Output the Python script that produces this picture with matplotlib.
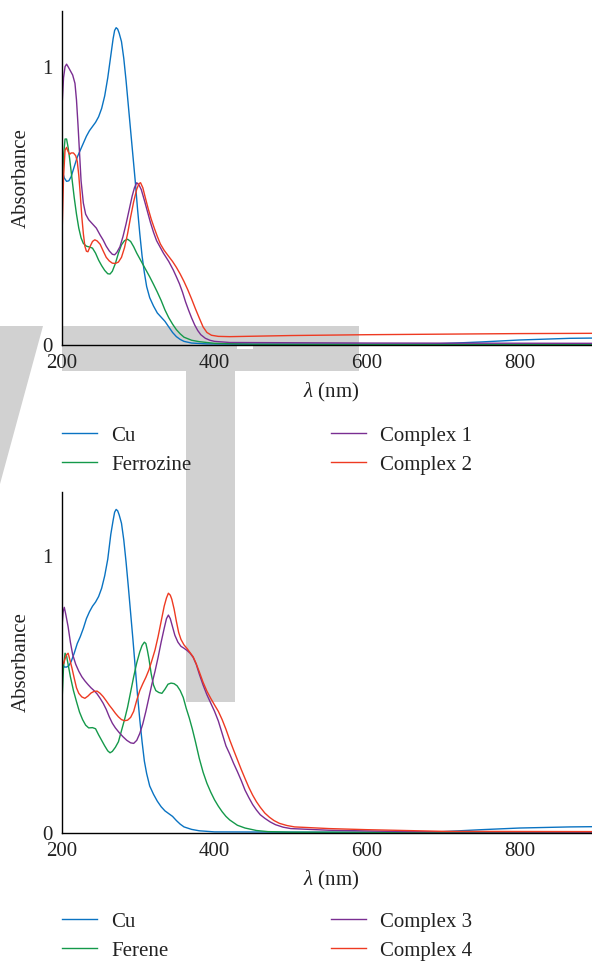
import matplotlib
matplotlib.use("Agg")
import matplotlib.pyplot as plt
from matplotlib.patches import Polygon, Rectangle

plt.rcParams["font.family"] = ["Liberation Serif", "DejaVu Serif"]
plt.rcParams["mathtext.fontset"] = "custom"
plt.rcParams["mathtext.it"] = "Liberation Serif:italic"
plt.rcParams["mathtext.rm"] = "Liberation Serif"

# ---------------- Panel A: Cu, Ferrozine, Complex 1, Complex 2 ----------------
cu_a_wl = [200, 203, 206, 209, 212, 216, 220, 224, 228, 232, 236, 240, 244, 248, 252,
           256, 260, 264, 267, 269, 271, 273, 275, 278, 281, 284, 287, 290, 293, 296,
           299, 302, 305, 308, 311, 315, 320, 325, 330, 335, 340, 345, 350, 355, 360,
           370, 390, 450, 650, 690, 750, 800, 866, 900]
cu_a_abs = [0.63, 0.60, 0.588, 0.59, 0.605, 0.64, 0.675, 0.70, 0.725, 0.75, 0.77, 0.785,
            0.80, 0.82, 0.85, 0.895, 0.96, 1.04, 1.10, 1.13, 1.14, 1.135, 1.12, 1.09,
            1.03, 0.95, 0.86, 0.77, 0.68, 0.59, 0.49, 0.40, 0.32, 0.26, 0.21, 0.17,
            0.14, 0.115, 0.10, 0.085, 0.065, 0.045, 0.03, 0.02, 0.013, 0.007, 0.004,
            0.003, 0.003, 0.004, 0.011, 0.018, 0.024, 0.025]

fz_wl = [200, 202, 204, 206, 208, 210, 213, 216, 219, 222, 225, 228, 232, 236, 240,
         244, 248, 252, 256, 260, 263, 266, 270, 274, 278, 282, 286, 290, 294, 298,
         302, 306, 310, 315, 320, 325, 330, 335, 340, 345, 350, 355, 360, 370, 380,
         400, 450, 600, 900]
fz_abs = [0.52, 0.68, 0.74, 0.74, 0.71, 0.67, 0.60, 0.53, 0.47, 0.42, 0.385, 0.365,
          0.355, 0.352, 0.348, 0.33, 0.305, 0.285, 0.268, 0.256, 0.255, 0.265, 0.293,
          0.33, 0.36, 0.375, 0.38, 0.372, 0.353, 0.33, 0.31, 0.29, 0.27, 0.245, 0.218,
          0.19, 0.16, 0.126, 0.098, 0.075, 0.055, 0.04, 0.028, 0.017, 0.012, 0.006,
          0.003, 0.002, 0.002]

c1_wl = [200, 202, 204, 206, 208, 211, 214, 217, 219, 221, 223, 225, 228, 231, 235,
         240, 245, 250, 254, 258, 262, 266, 269, 272, 276, 280, 284, 288, 292, 295,
         298, 301, 304, 308, 312, 316, 320, 324, 328, 333, 340, 346, 350, 354, 358,
         362, 366, 370, 374, 378, 382, 388, 394, 400, 420, 600, 900]
c1_abs = [0.856, 0.96, 1.0, 1.009, 1.0, 0.985, 0.97, 0.94, 0.88, 0.79, 0.69, 0.59,
          0.51, 0.47, 0.45, 0.435, 0.42, 0.395, 0.377, 0.355, 0.338, 0.326, 0.324,
          0.333, 0.353, 0.39, 0.435, 0.485, 0.535, 0.565, 0.583, 0.575, 0.558, 0.52,
          0.48, 0.44, 0.405, 0.375, 0.355, 0.33, 0.30, 0.269, 0.245, 0.22, 0.19, 0.155,
          0.125, 0.097, 0.072, 0.052, 0.037, 0.024, 0.017, 0.013, 0.009, 0.007, 0.006]

c2_wl = [200, 202, 204, 206, 208, 210, 212, 215, 218, 220, 222, 224, 226, 228, 230,
         232, 234, 237, 240, 243, 246, 250, 254, 258, 262, 266, 270, 274, 278, 282,
         286, 290, 294, 298, 301, 303, 306, 309, 313, 317, 321, 325, 329, 334, 340,
         345, 350, 355, 360, 365, 370, 375, 380, 385, 390, 396, 405, 420, 500, 600,
         700, 800, 900]
c2_abs = [0.389, 0.60, 0.70, 0.71, 0.695, 0.685, 0.69, 0.69, 0.68, 0.66, 0.61, 0.54,
          0.46, 0.40, 0.355, 0.337, 0.335, 0.355, 0.372, 0.378, 0.374, 0.362, 0.338,
          0.315, 0.302, 0.294, 0.293, 0.298, 0.315, 0.35, 0.40, 0.46, 0.515, 0.56,
          0.58, 0.583, 0.565, 0.532, 0.49, 0.452, 0.42, 0.39, 0.363, 0.34, 0.318, 0.30,
          0.279, 0.255, 0.228, 0.198, 0.165, 0.13, 0.097, 0.065, 0.045, 0.035, 0.031,
          0.03, 0.034, 0.037, 0.039, 0.041, 0.042]

# ---------------- Panel B: Cu, Ferene, Complex 3, Complex 4 ----------------
cu_b_wl = [200, 203, 206, 209, 212, 216, 220, 224, 228, 232, 236, 240, 244, 248, 252,
           256, 260, 264, 267, 269, 271, 273, 275, 278, 281, 284, 287, 290, 293, 296,
           299, 302, 305, 308, 311, 315, 320, 325, 330, 335, 340, 345, 350, 355, 360,
           370, 380, 400, 673, 700, 750, 800, 866, 900]
cu_b_abs = [0.615, 0.60, 0.60, 0.605, 0.62, 0.65, 0.685, 0.71, 0.74, 0.775, 0.80, 0.82,
            0.835, 0.855, 0.885, 0.93, 0.99, 1.08, 1.13, 1.16, 1.17, 1.165, 1.15, 1.12,
            1.06, 0.98, 0.89, 0.795, 0.70, 0.60, 0.50, 0.41, 0.33, 0.26, 0.215, 0.17,
            0.14, 0.115, 0.095, 0.08, 0.07, 0.06, 0.045, 0.032, 0.022, 0.013, 0.008,
            0.004, 0.002, 0.005, 0.012, 0.018, 0.022, 0.023]

fe_wl = [200, 202, 204, 206, 208, 211, 215, 219, 223, 227, 231, 235, 240, 244, 248,
         252, 256, 260, 263, 266, 270, 274, 278, 282, 286, 290, 294, 298, 302, 305,
         308, 310, 312, 314, 317, 320, 323, 327, 331, 335, 339, 343, 347, 351, 355,
         359, 363, 367, 371, 375, 380, 385, 390, 395, 400, 405, 410, 415, 420, 430,
         440, 455, 470, 500, 900]
fe_abs = [0.475, 0.60, 0.65, 0.64, 0.61, 0.565, 0.515, 0.475, 0.437, 0.41, 0.39, 0.38,
          0.381, 0.377, 0.355, 0.335, 0.315, 0.297, 0.29, 0.295, 0.31, 0.33, 0.37, 0.41,
          0.455, 0.51, 0.565, 0.615, 0.655, 0.678, 0.69, 0.685, 0.66, 0.63, 0.575,
          0.535, 0.515, 0.508, 0.505, 0.52, 0.538, 0.542, 0.54, 0.532, 0.515, 0.49,
          0.45, 0.415, 0.375, 0.33, 0.27, 0.22, 0.18, 0.148, 0.12, 0.097, 0.077, 0.06,
          0.047, 0.028, 0.018, 0.009, 0.005, 0.003, 0.002]

c3_wl = [200, 201.5, 203, 205, 208, 211, 214, 218, 222, 226, 230, 234, 238, 242, 246,
         250, 254, 258, 262, 266, 270, 275, 280, 285, 290, 294, 298, 302, 306, 310,
         314, 318, 322, 326, 330, 334, 337, 339.5, 342, 345, 348, 352, 356, 360, 364,
         368, 372, 376, 380, 385, 390, 395, 400, 405, 410, 415, 420, 425, 430, 435,
         440, 445, 450, 455, 460, 466, 473, 480, 490, 500, 550, 650, 900]
c3_abs = [0.746, 0.80, 0.816, 0.79, 0.746, 0.69, 0.645, 0.61, 0.585, 0.565, 0.55, 0.537,
          0.525, 0.515, 0.503, 0.487, 0.469, 0.447, 0.42, 0.397, 0.38, 0.363, 0.348,
          0.335, 0.326, 0.324, 0.335, 0.36, 0.395, 0.44, 0.49, 0.54, 0.585, 0.635,
          0.69, 0.74, 0.775, 0.788, 0.775, 0.745, 0.715, 0.69, 0.675, 0.668, 0.66,
          0.65, 0.635, 0.61, 0.575, 0.535, 0.50, 0.47, 0.44, 0.405, 0.36, 0.315,
          0.285, 0.252, 0.222, 0.19, 0.155, 0.128, 0.103, 0.083, 0.066, 0.053, 0.04,
          0.03, 0.021, 0.016, 0.01, 0.005, 0.003]

c4_wl = [200, 202, 204, 206, 208, 210, 213, 216, 219, 222, 226, 230, 234, 238, 242,
         246, 250, 254, 258, 262, 266, 270, 274, 278, 282, 286, 290, 294, 298, 302,
         306, 310, 314, 318, 322, 326, 330, 334, 337, 339.5, 342, 344, 347, 350, 353,
         356, 360, 364, 368, 372, 376, 380, 385, 390, 395, 400, 405, 410, 415, 420,
         425, 430, 435, 440, 445, 450, 455, 460, 466, 472, 478, 485, 495, 505, 550,
         600, 700, 900]
c4_abs = [0.62, 0.612, 0.63, 0.645, 0.65, 0.63, 0.597, 0.56, 0.525, 0.505, 0.492,
          0.487, 0.495, 0.506, 0.512, 0.513, 0.505, 0.493, 0.478, 0.462, 0.448, 0.433,
          0.42, 0.41, 0.406, 0.408, 0.418, 0.44, 0.48, 0.515, 0.54, 0.563, 0.59, 0.625,
          0.662, 0.71, 0.765, 0.82, 0.85, 0.867, 0.86, 0.845, 0.81, 0.765, 0.725, 0.70,
          0.68, 0.667, 0.652, 0.637, 0.612, 0.583, 0.545, 0.513, 0.487, 0.463, 0.44,
          0.41, 0.375, 0.336, 0.30, 0.265, 0.23, 0.197, 0.165, 0.137, 0.113, 0.093,
          0.072, 0.057, 0.045, 0.035, 0.027, 0.022, 0.016, 0.012, 0.006, 0.005]

x_ticks = [200, 400, 600, 800]
y_ticks = [0, 1]

BLUE = "#0a73c2"
GREEN = "#14994a"
PURPLE = "#7a2e92"
RED = "#ee3a22"
GRAY = "#d1d1d1"
TEXT = "#222222"
FS = 15

W, H = 592, 961
fig = plt.figure(figsize=(W / 100, H / 100), dpi=100)


def px_box(x0, y0, x1, y1):
    """Axes rectangle from pixel edges (origin top-left)."""
    return [x0 / W, 1 - y1 / H, (x1 - x0) / W, (y1 - y0) / H]


def px_pts(pts):
    return [(x / W, 1 - y / H) for x, y in pts]


# light gray backdrop shapes
for pts in (
    [(0, 326), (43, 326), (0, 484)],
    [(62, 326), (359, 326), (359, 371), (62, 371)],
    [(186, 371), (235, 371), (235, 702), (186, 702)],
):
    fig.add_artist(Polygon(px_pts(pts), closed=True, transform=fig.transFigure,
                           facecolor=GRAY, edgecolor="none", zorder=-2))
fig.add_artist(Rectangle((237 / W, 1 - 349 / H), 16 / W, 3 / H,
                         transform=fig.transFigure, facecolor="white",
                         edgecolor="none", zorder=-1))


def style_axes(ax, ymax, top_px, bottom_px):
    ax.set_facecolor("none")
    ax.set_xlim(200, 895)
    ax.set_ylim(0, ymax)
    ax.set_xticks(x_ticks)
    ax.set_yticks(y_ticks)
    for s in ("top", "right"):
        ax.spines[s].set_visible(False)
    for s in ("left", "bottom"):
        ax.spines[s].set_linewidth(1.0)
        ax.spines[s].set_color("black")
    ax.tick_params(axis="both", length=0, labelsize=FS, colors=TEXT)
    ax.tick_params(axis="y", pad=7)
    ax.tick_params(axis="x", pad=6.5)
    ax.set_ylabel("Absorbance", fontsize=FS, color=TEXT)
    ax.set_xlabel(r"$\lambda$ (nm)", fontsize=FS, color=TEXT)
    h = bottom_px - top_px
    ax.yaxis.set_label_coords((31 - 62) / 530, 0.5)
    ax.xaxis.set_label_coords((331 - 62) / 530, -(381 - 345) / h)


lw = 1.0

ax1 = fig.add_axes(px_box(62, 11, 592, 345))
l1 = ax1.plot(cu_a_wl, cu_a_abs, color=BLUE, lw=lw, label="Cu")[0]
l2 = ax1.plot(fz_wl, fz_abs, color=GREEN, lw=lw, label="Ferrozine")[0]
l3 = ax1.plot(c1_wl, c1_abs, color=PURPLE, lw=lw, label="Complex 1")[0]
l4 = ax1.plot(c2_wl, c2_abs, color=RED, lw=lw, label="Complex 2")[0]
style_axes(ax1, 1.2, 11, 345)

ax2 = fig.add_axes(px_box(62, 492, 592, 833))
m1 = ax2.plot(cu_b_wl, cu_b_abs, color=BLUE, lw=lw, label="Cu")[0]
m2 = ax2.plot(fe_wl, fe_abs, color=GREEN, lw=lw, label="Ferene")[0]
m3 = ax2.plot(c3_wl, c3_abs, color=PURPLE, lw=lw, label="Complex 3")[0]
m4 = ax2.plot(c4_wl, c4_abs, color=RED, lw=lw, label="Complex 4")[0]
style_axes(ax2, 1.233, 492, 833)


def add_legend(handles, x_px, y_px):
    leg = fig.legend(handles=handles, loc="upper left",
                     bbox_to_anchor=(x_px / W, 1 - y_px / H),
                     frameon=False, fontsize=FS, handlelength=1.7,
                     handletextpad=0.65, labelspacing=0.46, borderpad=0,
                     borderaxespad=0)
    for t in leg.get_texts():
        t.set_color(TEXT)
    return leg


add_legend([l1, l2], 62, 426)
add_legend([l3, l4], 331, 426)
add_legend([m1, m2], 62, 912)
add_legend([m3, m4], 331, 912)

fig.savefig("out.png", dpi=100)
